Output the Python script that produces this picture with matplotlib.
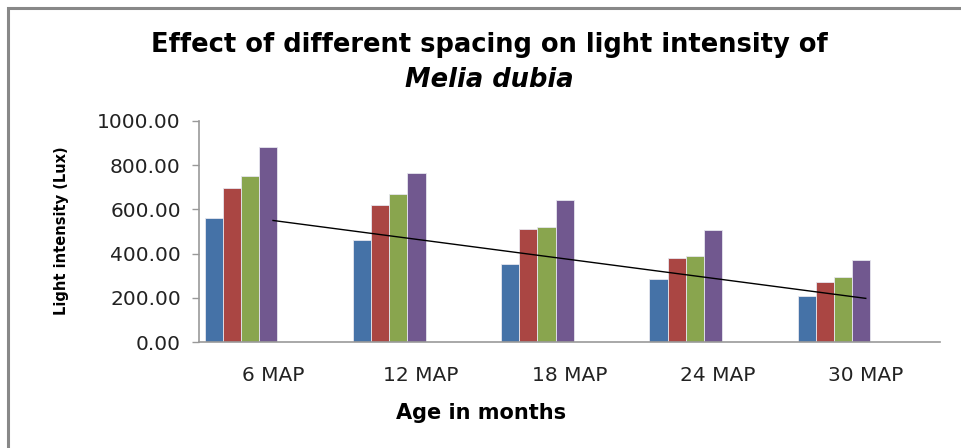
import numpy as np
import matplotlib.pyplot as plt
from matplotlib.patches import Rectangle

# Kategorie (wiek) i wartości dla czterech rozstawów
kategorie = ['6 MAP', '12 MAP', '18 MAP', '24 MAP', '30 MAP']
rozstaw_1 = [560, 463, 352, 284, 209]
rozstaw_2 = [698, 622, 512, 381, 270]
rozstaw_3 = [751, 671, 519, 387, 293]
rozstaw_4 = [883, 766, 644, 508, 372]
y_ticks = [0, 200, 400, 600, 800, 1000]

kolory = ['#4572A7', '#AA4643', '#89A54E', '#71588F']
serie = [rozstaw_1, rozstaw_2, rozstaw_3, rozstaw_4]

plt.rcParams['font.family'] = 'DejaVu Sans'

fig = plt.figure(figsize=(9.61, 4.48), dpi=100)
ax = fig.add_axes([0.207, 0.2366, 0.771, 0.4934])

x = np.arange(1, len(kategorie) + 1)
szer = 0.1225
for i, (s, c) in enumerate(zip(serie, kolory)):
    ax.bar(x - 0.399 + i * szer, s, width=szer, color=c,
           edgecolor='#e6e6ee', linewidth=0.6, zorder=2)

# liniowy trend pierwszej serii
a, b = np.polyfit(x, rozstaw_1, 1)
ax.plot(x[[0, -1]], a * x[[0, -1]] + b, color='black', linewidth=1.0, zorder=3)

ax.set_xlim(0.5, 5.5)
ax.set_ylim(0, 1000)
ax.set_yticks(y_ticks)
ax.set_yticklabels([f'{v:.2f}' for v in y_ticks], fontsize=14.5, color='#222222')
ax.set_xticks(x)
ax.set_xticklabels(kategorie, fontsize=14.5, color='#222222')
ax.tick_params(axis='x', length=0, pad=17)
ax.tick_params(axis='y', length=5, color='#999999', width=1, pad=8)

for sp in ['top', 'right']:
    ax.spines[sp].set_visible(False)
ax.spines['left'].set_color('#999999')
ax.spines['bottom'].set_color('#999999')
ax.spines['left'].set_linewidth(1.2)
ax.spines['bottom'].set_linewidth(1.2)

ax.set_xlabel('Age in months', fontsize=15, fontweight='bold', va='center')
ax.xaxis.set_label_coords(0.3806, -0.321)
ax.set_ylabel('Light intensity (Lux)', fontsize=10.5, fontweight='bold',
              va='center', ha='center')
ax.yaxis.set_label_coords(-0.186, 0.5045)

fig.text(489 / 961, 1 - 52 / 448, 'Effect of different spacing on light intensity of',
         ha='center', va='baseline', fontsize=18.5, fontweight='bold')
fig.text(489 / 961, 1 - 87 / 448, 'Melia dubia', ha='center', va='baseline',
         fontsize=18.5, fontweight='bold', fontstyle='italic')

# ramka obszaru wykresu
fig.patches.append(Rectangle((8 / 961, -0.2), 1.2, 1.2 - 8 / 448 + 0.001,
                             transform=fig.transFigure, fill=False,
                             edgecolor='#888888', linewidth=2.2))

plt.savefig('out.png', dpi=100)
